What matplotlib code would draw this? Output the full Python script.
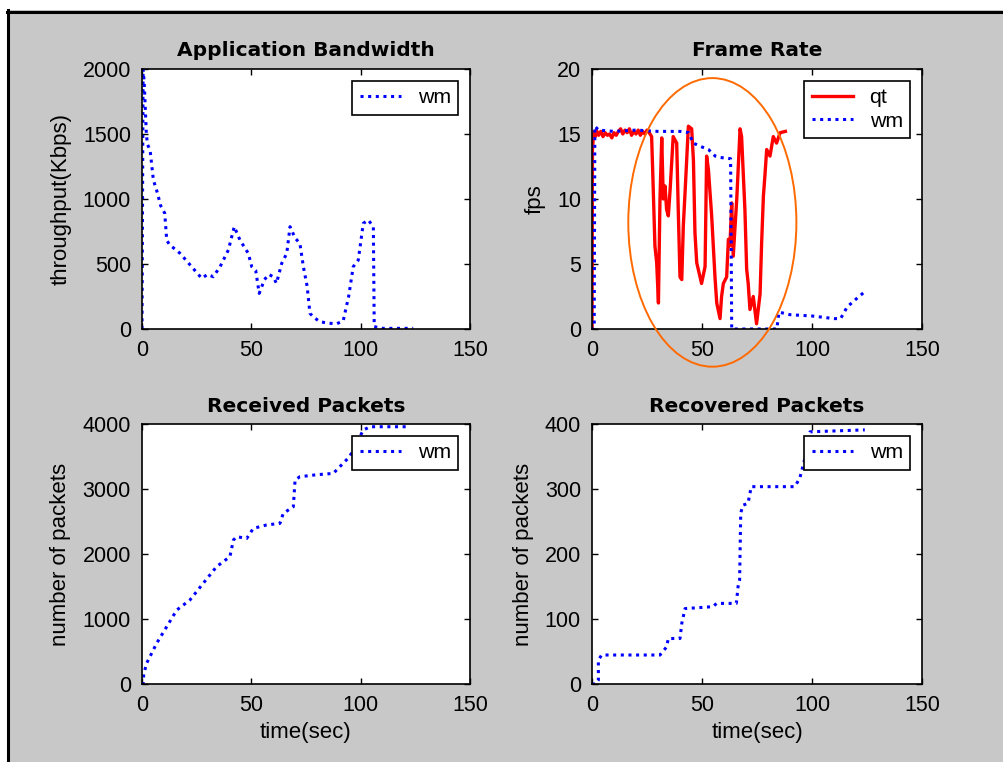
import matplotlib
matplotlib.use('Agg')
import matplotlib.pyplot as plt
from matplotlib.patches import Rectangle, Ellipse
from matplotlib.lines import Line2D

# ---------------- data ----------------
# Application Bandwidth (wm)
bw_t = [0, 0.5, 1.0, 1.5, 2.0, 2.5, 3.7, 5.2, 7.0, 8.5, 10.4, 11.3, 12.5, 17.4, 22.7, 27.3,
        30.0, 32.6, 35.7, 39.5, 42.2, 44.8, 48.6, 50.2, 52.0, 53.6, 56.0, 58.0, 60.0, 61.5,
        63.9, 66.2, 67.7, 70.0, 72.2, 73.8, 75.5, 76.8, 78.5, 81.4, 85.0, 89.0, 92.0, 94.5,
        96.6, 98.9, 101.2, 103.5, 105.8, 106.2, 110.0, 118.0, 124.0]
bw_kbps = [0, 2000, 1900, 1700, 1500, 1420, 1376, 1146, 1050, 950, 890, 684, 650, 582, 479, 390,
           420, 402, 479, 608, 787, 684, 582, 479, 450, 274, 380, 420, 402, 351,
           505, 582, 787, 700, 659, 479, 330, 121, 90, 56, 45, 40, 62, 250,
           479, 530, 813, 838, 787, 18, 5, 5, 5]

# Frame Rate (qt, wm)
qt_t = [0, 0.2, 0.5, 1, 1.5, 2, 3, 4, 5, 6, 7, 8, 9, 10, 11, 12, 13, 14, 15, 16, 17, 18, 19, 20,
        21, 22, 23, 24, 25, 26, 27.1, 27.6, 28.6, 29.4, 30.2, 30.9, 31.7, 32.4, 33.2, 33.9,
        34.7, 35.5, 36.9, 38.5, 39.2, 40.0, 40.8, 41.5, 42.3, 43.8, 45.3, 46.1, 46.8, 47.6,
        49.8, 51.4, 52.1, 52.9, 54.4, 55.9, 56.7, 58.2, 58.9, 59.7, 61.2, 62.0, 62.7, 63.5,
        64.2, 65.8, 67.3, 68.0, 68.8, 69.5, 70.3, 71.0, 71.8, 73.3, 74.8, 76.4, 77.1, 77.9,
        78.6, 79.4, 80.9, 82.4, 83.9, 85.5, 87.9]
qt_fps = [0, 13.8, 14.5, 15.2, 14.8, 15.3, 14.9, 15.2, 14.8, 15.1, 14.9, 15.0, 14.7, 15.1,
          14.9, 15.2, 15.4, 15.0, 15.3, 15.1, 15.4, 14.9, 15.2, 15.0, 15.3, 14.9, 15.2, 15.0,
          15.3, 15.1, 14.8, 12.1, 6.4, 5.1, 2.0, 10.0, 14.7, 10.0, 11.0, 9.2,
          8.7, 10.7, 14.8, 14.3, 9.2, 4.0, 3.8, 7.9, 10.5, 15.6, 15.4, 13.0, 7.4, 5.1,
          3.5, 4.8, 13.3, 12.3, 8.7, 4.0, 2.0, 0.8, 2.5, 3.5, 4.0, 6.9, 6.4, 9.7,
          5.6, 10.0, 15.4, 14.8, 11.8, 9.2, 4.6, 3.5, 1.5, 2.5, 0.4, 2.7, 6.6, 10.2,
          11.8, 13.8, 13.3, 14.8, 14.3, 15.1, 15.2]
wmf_t = [0, 1.0, 1.3, 3, 10, 20, 30, 40, 44, 46, 50, 53, 56, 58, 63, 63.5, 84, 85, 90, 100,
         110, 113, 116, 120, 123.5]
wmf_fps = [0, 0, 15.6, 15.3, 15.2, 15.3, 15.2, 15.2, 15.1, 14.3, 14.0, 13.8, 13.3, 13.2, 13.1,
           0, 0, 1.3, 1.1, 1.0, 0.8, 0.8, 1.7, 2.3, 2.8]

# Received Packets (wm)
rx_t = [0, 0.5, 0.8, 2.1, 6.7, 11.3, 15.9, 21.9, 28.0, 34.1, 40.2, 41.8, 43.3, 47.9, 50.9,
        56.9, 63.1, 64.6, 69.2, 70.0, 72.2, 80.0, 87.5, 95.0, 101.2, 104.3, 122.5]
rx_pkts = [0, 0, 150, 318, 626, 882, 1138, 1292, 1549, 1805, 1959, 2215, 2266, 2240, 2394,
           2446, 2472, 2625, 2727, 3138, 3189, 3220, 3240, 3500, 3907, 3958, 3958]

# Recovered Packets (wm)
rc_t = [0, 1.5, 2.9, 2.9, 4.4, 30.9, 33.9, 34.7, 40.0, 40.8, 42.3, 55.0, 56.6, 65.6, 66.4,
        67.1, 67.6, 68.6, 70.9, 72.4, 92.1, 94.4, 97.0, 99.1, 124.0]
rc_pkts = [0, 0, 6, 37, 44.6, 44.6, 57, 70, 70, 93, 116, 119, 124, 124, 150,
           160, 263, 275, 278, 303.6, 303.6, 316, 350, 388, 391]

titles = ['Application Bandwidth', 'Frame Rate', 'Received Packets', 'Recovered Packets']
ylabels = ['throughput(Kbps)', 'fps', 'number of packets', 'number of packets']
ylims = [(0, 2000), (0, 20), (0, 4000), (0, 400)]
yticks = [[0, 500, 1000, 1500, 2000], [0, 5, 10, 15, 20],
          [0, 1000, 2000, 3000, 4000], [0, 100, 200, 300, 400]]

W, H = 1004, 762
fig = plt.figure(figsize=(W / 100, H / 100), dpi=100, facecolor='white')

# gray window area with a black frame on top/left
fig.patches.append(Rectangle((7 / W, 0), 1 - 7 / W, 1 - 10 / H, transform=fig.transFigure,
                             facecolor='#c8c8c8', edgecolor='none', zorder=-5))
fig.lines.append(Line2D([7 / W, 1], [1 - 11.5 / H, 1 - 11.5 / H], transform=fig.transFigure,
                        color='black', lw=2.2, zorder=-4))
fig.lines.append(Line2D([8.5 / W, 8.5 / W], [0, 1 - 10 / H], transform=fig.transFigure,
                        color='black', lw=2.2, zorder=-4))

tick_font = 'Liberation Sans'
dot = (0, (1, 1.5))

def px_axes(left, top, right, bottom):
    return fig.add_axes([left / W, 1 - bottom / H, (right - left) / W, (bottom - top) / H])

axs = [px_axes(142, 69, 470, 329), px_axes(592, 69, 922, 329),
       px_axes(142, 424, 470, 684), px_axes(592, 424, 922, 684)]

axs[0].plot(bw_t, bw_kbps, color='blue', lw=2.2, ls=dot, label='wm')
axs[1].plot(qt_t, qt_fps, color='red', lw=2.4, label='qt')
axs[1].plot(wmf_t, wmf_fps, color='blue', lw=2.2, ls=dot, label='wm')
axs[2].plot(rx_t, rx_pkts, color='blue', lw=2.2, ls=dot, label='wm')
axs[3].plot(rc_t, rc_pkts, color='blue', lw=2.2, ls=dot, label='wm')

# orange highlight around the frame-rate drops
axs[1].add_patch(Ellipse((54.7, 8.2), 76.4, 22.2, facecolor='none', edgecolor='#ff6a00',
                         lw=1.4, clip_on=False, zorder=5))

for i, ax in enumerate(axs):
    ax.set_facecolor('white')
    ax.set_xlim(0, 150)
    ax.set_ylim(*ylims[i])
    ax.set_xticks([0, 50, 100, 150])
    ax.set_yticks(yticks[i])
    ax.tick_params(direction='in', top=True, right=True, length=4, width=1,
                   labelsize=15.5, pad=8)
    for lab in ax.get_xticklabels() + ax.get_yticklabels():
        lab.set_family(tick_font)
    for s in ax.spines.values():
        s.set_linewidth(1.2)
    ax.set_title(titles[i], fontsize=14.5, fontweight='bold', family='DejaVu Sans', pad=9)
    ax.set_ylabel(ylabels[i], fontsize=16, family=tick_font, labelpad=8)
    if i >= 2:
        ax.set_xlabel('time(sec)', fontsize=16, family=tick_font, labelpad=4)
    leg = ax.legend(loc='upper right', fancybox=False, framealpha=1, edgecolor='black',
                    prop={'family': tick_font, 'size': 15.4}, handlelength=1.9,
                    handletextpad=0.8, borderaxespad=0.55, borderpad=0.35,
                    labelspacing=0.2)
    leg.get_frame().set_linewidth(1.2)
    leg.set_zorder(6)

fig.savefig('out.png', dpi=100, facecolor=fig.get_facecolor())
